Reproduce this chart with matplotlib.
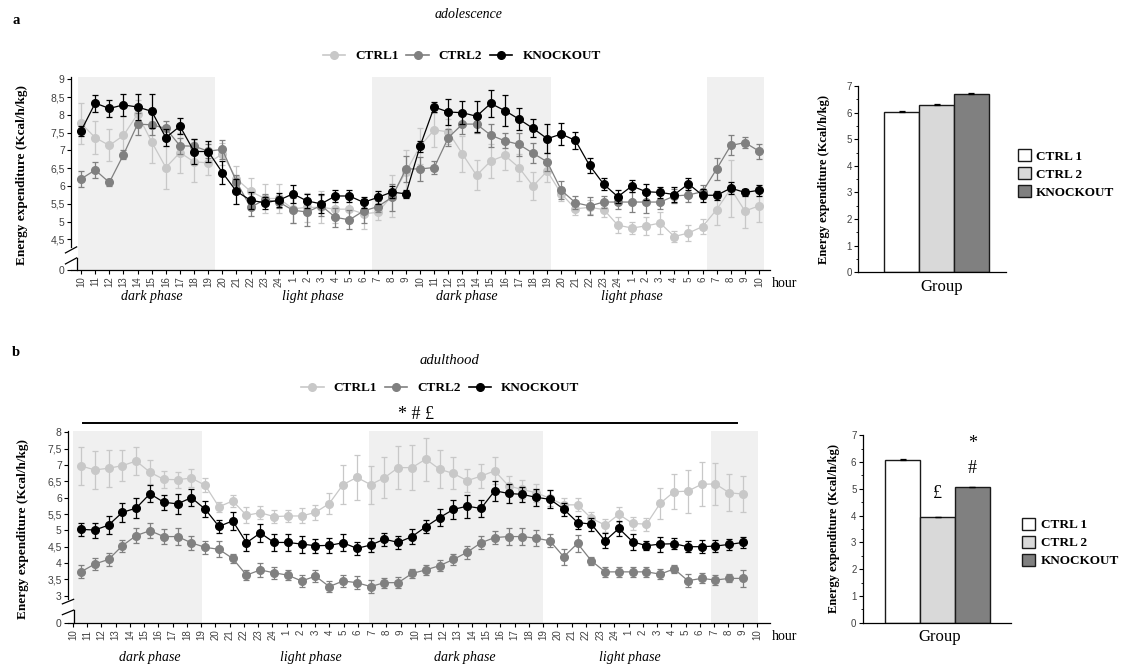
import numpy as np
import matplotlib
matplotlib.use("Agg")
import matplotlib.pyplot as plt
from matplotlib.lines import Line2D
from matplotlib.patches import Patch

SERIF = ["Liberation Serif", "DejaVu Serif"]
SANS = ["Liberation Sans", "DejaVu Sans"]

C1, C2, KO = "#c8c8c8", "#808080", "#000000"
SHADE = "#f0f0f0"
TICK_GREY = "#404040"

# clock hours, 10:00 day 1 -> 10:00 day 3
hour_labels = [str(h) for h in list(range(10, 25)) + list(range(1, 25)) + list(range(1, 11))]
series_names = ["CTRL1", "CTRL2", "KNOCKOUT"]
group_names = ["CTRL 1", "CTRL 2", "KNOCKOUT"]

# ---- adolescence: hourly energy expenditure (mean, sem) ----
ado_ctrl1 = [7.76, 7.36, 7.14, 7.42, 8.02, 7.24, 6.52, 6.94, 6.68, 6.65,
             6.90, 6.20, 5.85, 5.65, 5.65,
             5.36, 5.40, 5.40, 5.35, 5.35, 5.22,
             5.26, 5.72, 6.40, 7.12, 7.58, 7.52, 6.90, 6.30, 6.70, 6.86, 6.52, 6.00, 6.42,
             5.78, 5.36, 5.40, 5.34, 4.90,
             4.82, 4.88, 4.96, 4.58, 4.68, 4.86,
             5.34, 5.92, 5.30, 5.44]
ado_ctrl1_sem = [0.58, 0.46, 0.45, 0.55, 0.40, 0.60, 0.60, 0.56, 0.56, 0.33,
                 0.30, 0.35, 0.38, 0.40, 0.40,
                 0.40, 0.40, 0.45, 0.40, 0.40, 0.42,
                 0.22, 0.60, 0.60, 0.50, 0.47, 0.35, 0.50, 0.42, 0.47, 0.40, 0.38, 0.40, 0.30,
                 0.20, 0.18, 0.20, 0.20, 0.23,
                 0.18, 0.26, 0.32, 0.15, 0.22, 0.22,
                 0.44, 0.80, 0.47, 0.45]
ado_ctrl2 = [6.20, 6.45, 6.10, 6.88, 7.74, 7.72, 7.62, 7.13, 7.12, 6.98,
             7.03, 6.12, 5.40, 5.62, 5.55,
             5.32, 5.27, 5.45, 5.12, 5.05, 5.30,
             5.42, 5.68, 6.48, 6.48, 6.52, 7.36, 7.74, 7.74, 7.43, 7.27, 7.17, 6.92, 6.68,
             5.88, 5.53, 5.44, 5.55, 5.55,
             5.55, 5.55, 5.55, 5.72, 5.75, 5.84,
             6.48, 7.14, 7.22, 6.98]
ado_ctrl2_sem = [0.22, 0.22, 0.10, 0.12, 0.30, 0.30, 0.22, 0.22, 0.20, 0.20,
                 0.26, 0.20, 0.24, 0.15, 0.18,
                 0.35, 0.38, 0.30, 0.27, 0.27, 0.33,
                 0.15, 0.38, 0.36, 0.34, 0.18, 0.24, 0.28, 0.24, 0.32, 0.21, 0.32, 0.28, 0.25,
                 0.25, 0.18, 0.26, 0.18, 0.20,
                 0.27, 0.30, 0.20, 0.20, 0.20, 0.20,
                 0.32, 0.28, 0.16, 0.21]
ado_ko = [7.55, 8.33, 8.18, 8.28, 8.22, 8.10, 7.36, 7.68, 6.97, 6.97,
          6.38, 5.85, 5.60, 5.53, 5.60,
          5.78, 5.58, 5.50, 5.72, 5.72, 5.54,
          5.68, 5.83, 5.78, 7.12, 8.22, 8.08, 8.06, 7.96, 8.32, 8.12, 7.88, 7.62, 7.33,
          7.46, 7.28, 6.58, 6.05, 5.70,
          6.00, 5.84, 5.82, 5.76, 6.06, 5.74,
          5.74, 5.94, 5.82, 5.88]
ado_ko_sem = [0.15, 0.24, 0.24, 0.30, 0.37, 0.48, 0.24, 0.22, 0.36, 0.30,
              0.32, 0.36, 0.24, 0.17, 0.20,
              0.26, 0.20, 0.27, 0.18, 0.17, 0.16,
              0.18, 0.18, 0.12, 0.15, 0.14, 0.37, 0.33, 0.44, 0.39, 0.43, 0.31, 0.25, 0.41,
              0.32, 0.23, 0.20, 0.17, 0.19,
              0.17, 0.22, 0.15, 0.21, 0.16, 0.18,
              0.13, 0.16, 0.10, 0.15]

# ---- adulthood ----
adu_ctrl1 = [6.97, 6.85, 6.90, 6.98, 7.12, 6.78, 6.56, 6.55, 6.60, 6.38,
             5.72, 5.90, 5.46, 5.54, 5.42,
             5.44, 5.44, 5.55, 5.82, 6.40, 6.62,
             6.40, 6.61, 6.92, 6.92, 7.18, 6.87, 6.74, 6.52, 6.66, 6.82, 6.36, 6.25, 6.15,
             5.98, 5.78, 5.78, 5.37, 5.16,
             5.49, 5.21, 5.19, 5.83, 6.18, 6.20,
             6.41, 6.42, 6.15, 6.11]
adu_ctrl1_sem = [0.57, 0.57, 0.56, 0.48, 0.42, 0.36, 0.27, 0.25, 0.28, 0.22,
                 0.16, 0.18, 0.24, 0.20, 0.19,
                 0.19, 0.23, 0.23, 0.33, 0.60, 0.69,
                 0.58, 0.63, 0.65, 0.69, 0.66, 0.58, 0.49, 0.36, 0.37, 0.41, 0.30, 0.28, 0.28,
                 0.25, 0.20, 0.20, 0.18, 0.20,
                 0.23, 0.21, 0.20, 0.47, 0.53, 0.66,
                 0.68, 0.65, 0.56, 0.54]
adu_ctrl2 = [3.73, 3.97, 4.11, 4.53, 4.84, 4.99, 4.81, 4.81, 4.62, 4.48,
             4.42, 4.14, 3.63, 3.79, 3.70,
             3.63, 3.45, 3.60, 3.28, 3.45, 3.40,
             3.28, 3.40, 3.40, 3.68, 3.79, 3.92, 4.11, 4.33, 4.62, 4.78, 4.81, 4.81, 4.76,
             4.68, 4.19, 4.60, 4.07, 3.73,
             3.73, 3.73, 3.73, 3.66, 3.82, 3.46,
             3.53, 3.48, 3.53, 3.53]
adu_ctrl2_sem = [0.20, 0.18, 0.20, 0.18, 0.22, 0.23, 0.22, 0.27, 0.21, 0.20,
                 0.25, 0.15, 0.16, 0.21, 0.18,
                 0.15, 0.18, 0.18, 0.18, 0.17, 0.19,
                 0.20, 0.15, 0.17, 0.15, 0.15, 0.17, 0.18, 0.20, 0.20, 0.20, 0.25, 0.25, 0.25,
                 0.20, 0.25, 0.25, 0.12, 0.15,
                 0.15, 0.15, 0.15, 0.15, 0.13, 0.20,
                 0.15, 0.15, 0.12, 0.25]
adu_ko = [5.03, 5.01, 5.16, 5.55, 5.68, 6.12, 5.86, 5.81, 6.00, 5.65,
          5.12, 5.29, 4.62, 4.92, 4.63,
          4.63, 4.58, 4.53, 4.54, 4.62, 4.45,
          4.55, 4.73, 4.63, 4.81, 5.11, 5.39, 5.64, 5.74, 5.67, 6.21, 6.13, 6.10, 6.01,
          5.95, 5.65, 5.24, 5.19, 4.68,
          5.06, 4.65, 4.53, 4.58, 4.59, 4.50,
          4.50, 4.52, 4.57, 4.63]
adu_ko_sem = [0.20, 0.23, 0.28, 0.28, 0.30, 0.26, 0.23, 0.30, 0.27, 0.24,
              0.19, 0.27, 0.26, 0.27, 0.25,
              0.25, 0.26, 0.21, 0.23, 0.26, 0.20,
              0.21, 0.20, 0.21, 0.22, 0.20, 0.27, 0.28, 0.35, 0.27, 0.30, 0.30, 0.23, 0.26,
              0.28, 0.20, 0.19, 0.20, 0.23,
              0.23, 0.25, 0.13, 0.23, 0.17, 0.17,
              0.20, 0.18, 0.18, 0.18]

# ---- whole-period group means ----
ado_group = [6.01, 6.27, 6.69]
ado_group_sem = [0.05, 0.07, 0.05]
adu_group = [6.09, 3.93, 5.05]
adu_group_sem = [0.04, 0.03, 0.03]


def timecourse(ax, xs, curves, sems, ylo, yticks, ytop, xlim, dark, brk):
    """Hourly traces on a broken y axis, dark phases shaded."""
    for sp in ("top", "right"):
        ax.spines[sp].set_visible(False)
    for a, b in dark:
        ax.axvspan(a, b, color=SHADE, lw=0, zorder=0)
    for y, e, c, z in zip(curves, sems, (C1, C2, KO), (2, 3, 4)):
        ax.errorbar(xs, y, yerr=e, color=c, ecolor=c, marker="o", ms=5.5,
                    lw=0.9, elinewidth=0.9, capsize=2.3, capthick=0.9, zorder=z)
    ax.set_xlim(*xlim)
    ax.set_ylim(ylo, ytop)
    ax.set_xticks(range(len(hour_labels)))
    ax.set_xticklabels(hour_labels, rotation=90, fontsize=7, color=TICK_GREY,
                       family=SANS)
    ax.set_yticks([ylo] + yticks)
    ax.set_yticklabels(["0"] + [f"{v:g}".replace(".", ",") for v in yticks],
                       fontsize=7.5, color=TICK_GREY, family=SANS)
    ax.tick_params(length=3, width=0.8, pad=1.5)
    ax.spines["bottom"].set_linewidth(0.9)

    # broken y axis: upper spine, two slashes, short stub down to 0
    up_lo, s1_lo, s2_hi, s2_lo = brk
    ax.spines["left"].set_bounds(up_lo, ytop)
    ax.spines["left"].set_linewidth(0.9)
    tr = ax.get_yaxis_transform()
    dx = 0.008
    ax.plot([-dx, dx], [s1_lo, up_lo], transform=tr, color="k", lw=0.9, clip_on=False)
    ax.plot([-dx, dx], [s2_lo, s2_hi], transform=tr, color="k", lw=0.9, clip_on=False)
    ax.plot([dx, dx], [ylo, s2_hi], transform=tr, color="k", lw=0.9, clip_on=False)

    ax.set_ylabel("Energy expenditure (Kcal/h/kg)", family=SERIF, fontsize=9.5,
                  fontweight="bold")
    ax.text(1.003, -0.07, "hour", transform=ax.transAxes, family=SERIF,
            fontsize=10, va="center", ha="left")


def phase_labels(ax, xs, y):
    for x, name in zip(xs, ["dark phase", "light phase", "dark phase", "light phase"]):
        ax.text(x, y, name, transform=ax.get_xaxis_transform(), family=SERIF,
                style="italic", fontsize=10, ha="center", va="center")


def group_bars(ax, vals, sems, xlim, ylab_x, group_x):
    for sp in ("top", "right"):
        ax.spines[sp].set_visible(False)
    ax.bar(range(3), vals, width=1.0, color=["white", "#d9d9d9", "#808080"],
           edgecolor="#1a1a1a", linewidth=1.0, zorder=2)
    ax.errorbar(range(3), vals, yerr=[np.zeros(3), sems], fmt="none",
                ecolor="k", elinewidth=0.9, capsize=2, capthick=0.9, zorder=3)
    ax.set_xlim(*xlim)
    ax.set_ylim(0, 7)
    ax.set_xticks([])
    ax.set_yticks(range(8))
    ax.set_yticks(np.arange(0.5, 7, 1.0), minor=True)
    ax.tick_params(axis="y", length=3, width=0.8, pad=1.5, labelsize=7,
                   labelcolor=TICK_GREY)
    ax.tick_params(axis="y", which="minor", length=1.5, width=0.6)
    for lab in ax.get_yticklabels():
        lab.set_family(SANS)
    ax.spines["left"].set_linewidth(0.9)
    ax.spines["bottom"].set_linewidth(0.9)
    ax.set_ylabel("Energy expenditure (Kcal/h/kg)", family=SERIF, fontsize=9,
                  fontweight="bold")
    ax.yaxis.set_label_coords(ylab_x, 0.5)
    ax.text(group_x, -0.077, "Group", transform=ax.get_xaxis_transform(),
            family=SERIF, fontsize=12, ha="center", va="center")


fig = plt.figure(figsize=(11.26, 6.68), dpi=100)

# ---------------- a: adolescence ----------------
ax_a = fig.add_axes([0.0631, 0.5958, 0.6208, 0.2882])
xa = np.arange(len(hour_labels))
timecourse(ax_a, xa, [ado_ctrl1, ado_ctrl2, ado_ko],
           [ado_ctrl1_sem, ado_ctrl2_sem, ado_ko_sem],
           ylo=3.64, yticks=[4.5, 5, 5.5, 6, 6.5, 7, 7.5, 8, 8.5, 9], ytop=9.05,
           xlim=(-0.71, 48.78), dark=[(-0.25, 9.5), (20.6, 33.25), (44.3, 48.35)],
           brk=(4.29, 4.12, 3.98, 3.81))
ax_a.yaxis.set_label_coords(-0.061, 0.495)
phase_labels(ax_a, [5.0, 16.4, 27.3, 39.0], -0.139)

ax_ab = fig.add_axes([0.7623, 0.5924, 0.1311, 0.2789])
group_bars(ax_ab, ado_group, ado_group_sem, (-1.25, 3.0), -0.19, 1.15)

# ---------------- b: adulthood ----------------
ax_b = fig.add_axes([0.0604, 0.0669, 0.6234, 0.2879])
# adult traces were logged on a slightly tighter grid than the hour ticks
xb = np.linspace(0.56, 47.02, len(hour_labels))
timecourse(ax_b, xb, [adu_ctrl1, adu_ctrl2, adu_ko],
           [adu_ctrl1_sem, adu_ctrl2_sem, adu_ko_sem],
           ylo=2.156, yticks=[3, 3.5, 4, 4.5, 5, 5.5, 6, 6.5, 7, 7.5, 8], ytop=8.04,
           xlim=(-0.35, 48.91), dark=[(0.0, 9.05), (20.8, 33.0), (44.8, 48.07)],
           brk=(2.89, 2.75, 2.56, 2.42))
ax_b.yaxis.set_label_coords(-0.0556, 0.49)
phase_labels(ax_b, [5.4, 16.7, 27.5, 39.1], -0.18)

# significance bar across the whole recording
ax_b.plot([0.68, 46.6], [8.29, 8.29], color="k", lw=1.4, clip_on=False)
ax_b.text(24.1, 8.54, "* # £", family=SERIF, fontsize=13, ha="center",
          va="center")

ax_bb = fig.add_axes([0.7662, 0.0678, 0.1314, 0.2806])
group_bars(ax_bb, adu_group, adu_group_sem, (-1.15, 3.1), -0.154, 1.07)
ax_bb.text(1, 4.84, "£", family=SERIF, fontsize=13, ha="center", va="center")
ax_bb.text(2, 5.77, "#", family=SERIF, fontsize=13, ha="center", va="center")
ax_bb.text(2, 6.71, "*", family=SERIF, fontsize=13, ha="center", va="center")

# ---------------- titles, panel letters, legends ----------------
fig.text(0.0142, 0.969, "a", family=SERIF, fontsize=10.5, fontweight="bold",
         ha="center", va="center")
fig.text(0.0142, 0.473, "b", family=SERIF, fontsize=10.5, fontweight="bold",
         ha="center", va="center")
fig.text(0.4165, 0.979, "adolescence", family=SERIF, style="italic",
         fontsize=10, ha="center", va="center")
fig.text(0.3996, 0.461, "adulthood", family=SERIF, style="italic",
         fontsize=10.5, ha="center", va="center")

line_handles = [Line2D([], [], color=c, marker="o", ms=5.5, lw=1.2)
                for c in (C1, C2, KO)]
leg_kw = dict(loc="center", ncol=3, frameon=False, handlelength=1.7,
              handletextpad=0.75, columnspacing=0.6,
              prop={"family": SERIF, "size": 9.5, "weight": "bold"})
fig.legend(line_handles, series_names, bbox_to_anchor=(0.410, 0.916), **leg_kw)
fig.legend(line_handles, series_names, bbox_to_anchor=(0.391, 0.419), **leg_kw)

box_handles = [Patch(facecolor=f, edgecolor="#1a1a1a", linewidth=1.0)
               for f in ("white", "#d9d9d9", "#808080")]
box_kw = dict(loc="center left", frameon=False, handlelength=1.0,
              handleheight=1.0, handletextpad=0.4, labelspacing=0.35,
              borderpad=0, prop={"family": SERIF, "size": 9.5, "weight": "bold"})
fig.legend(box_handles, group_names, bbox_to_anchor=(0.898, 0.7395), **box_kw)
fig.legend(box_handles, group_names, bbox_to_anchor=(0.902, 0.1876), **box_kw)

fig.savefig("out.png", dpi=100)
